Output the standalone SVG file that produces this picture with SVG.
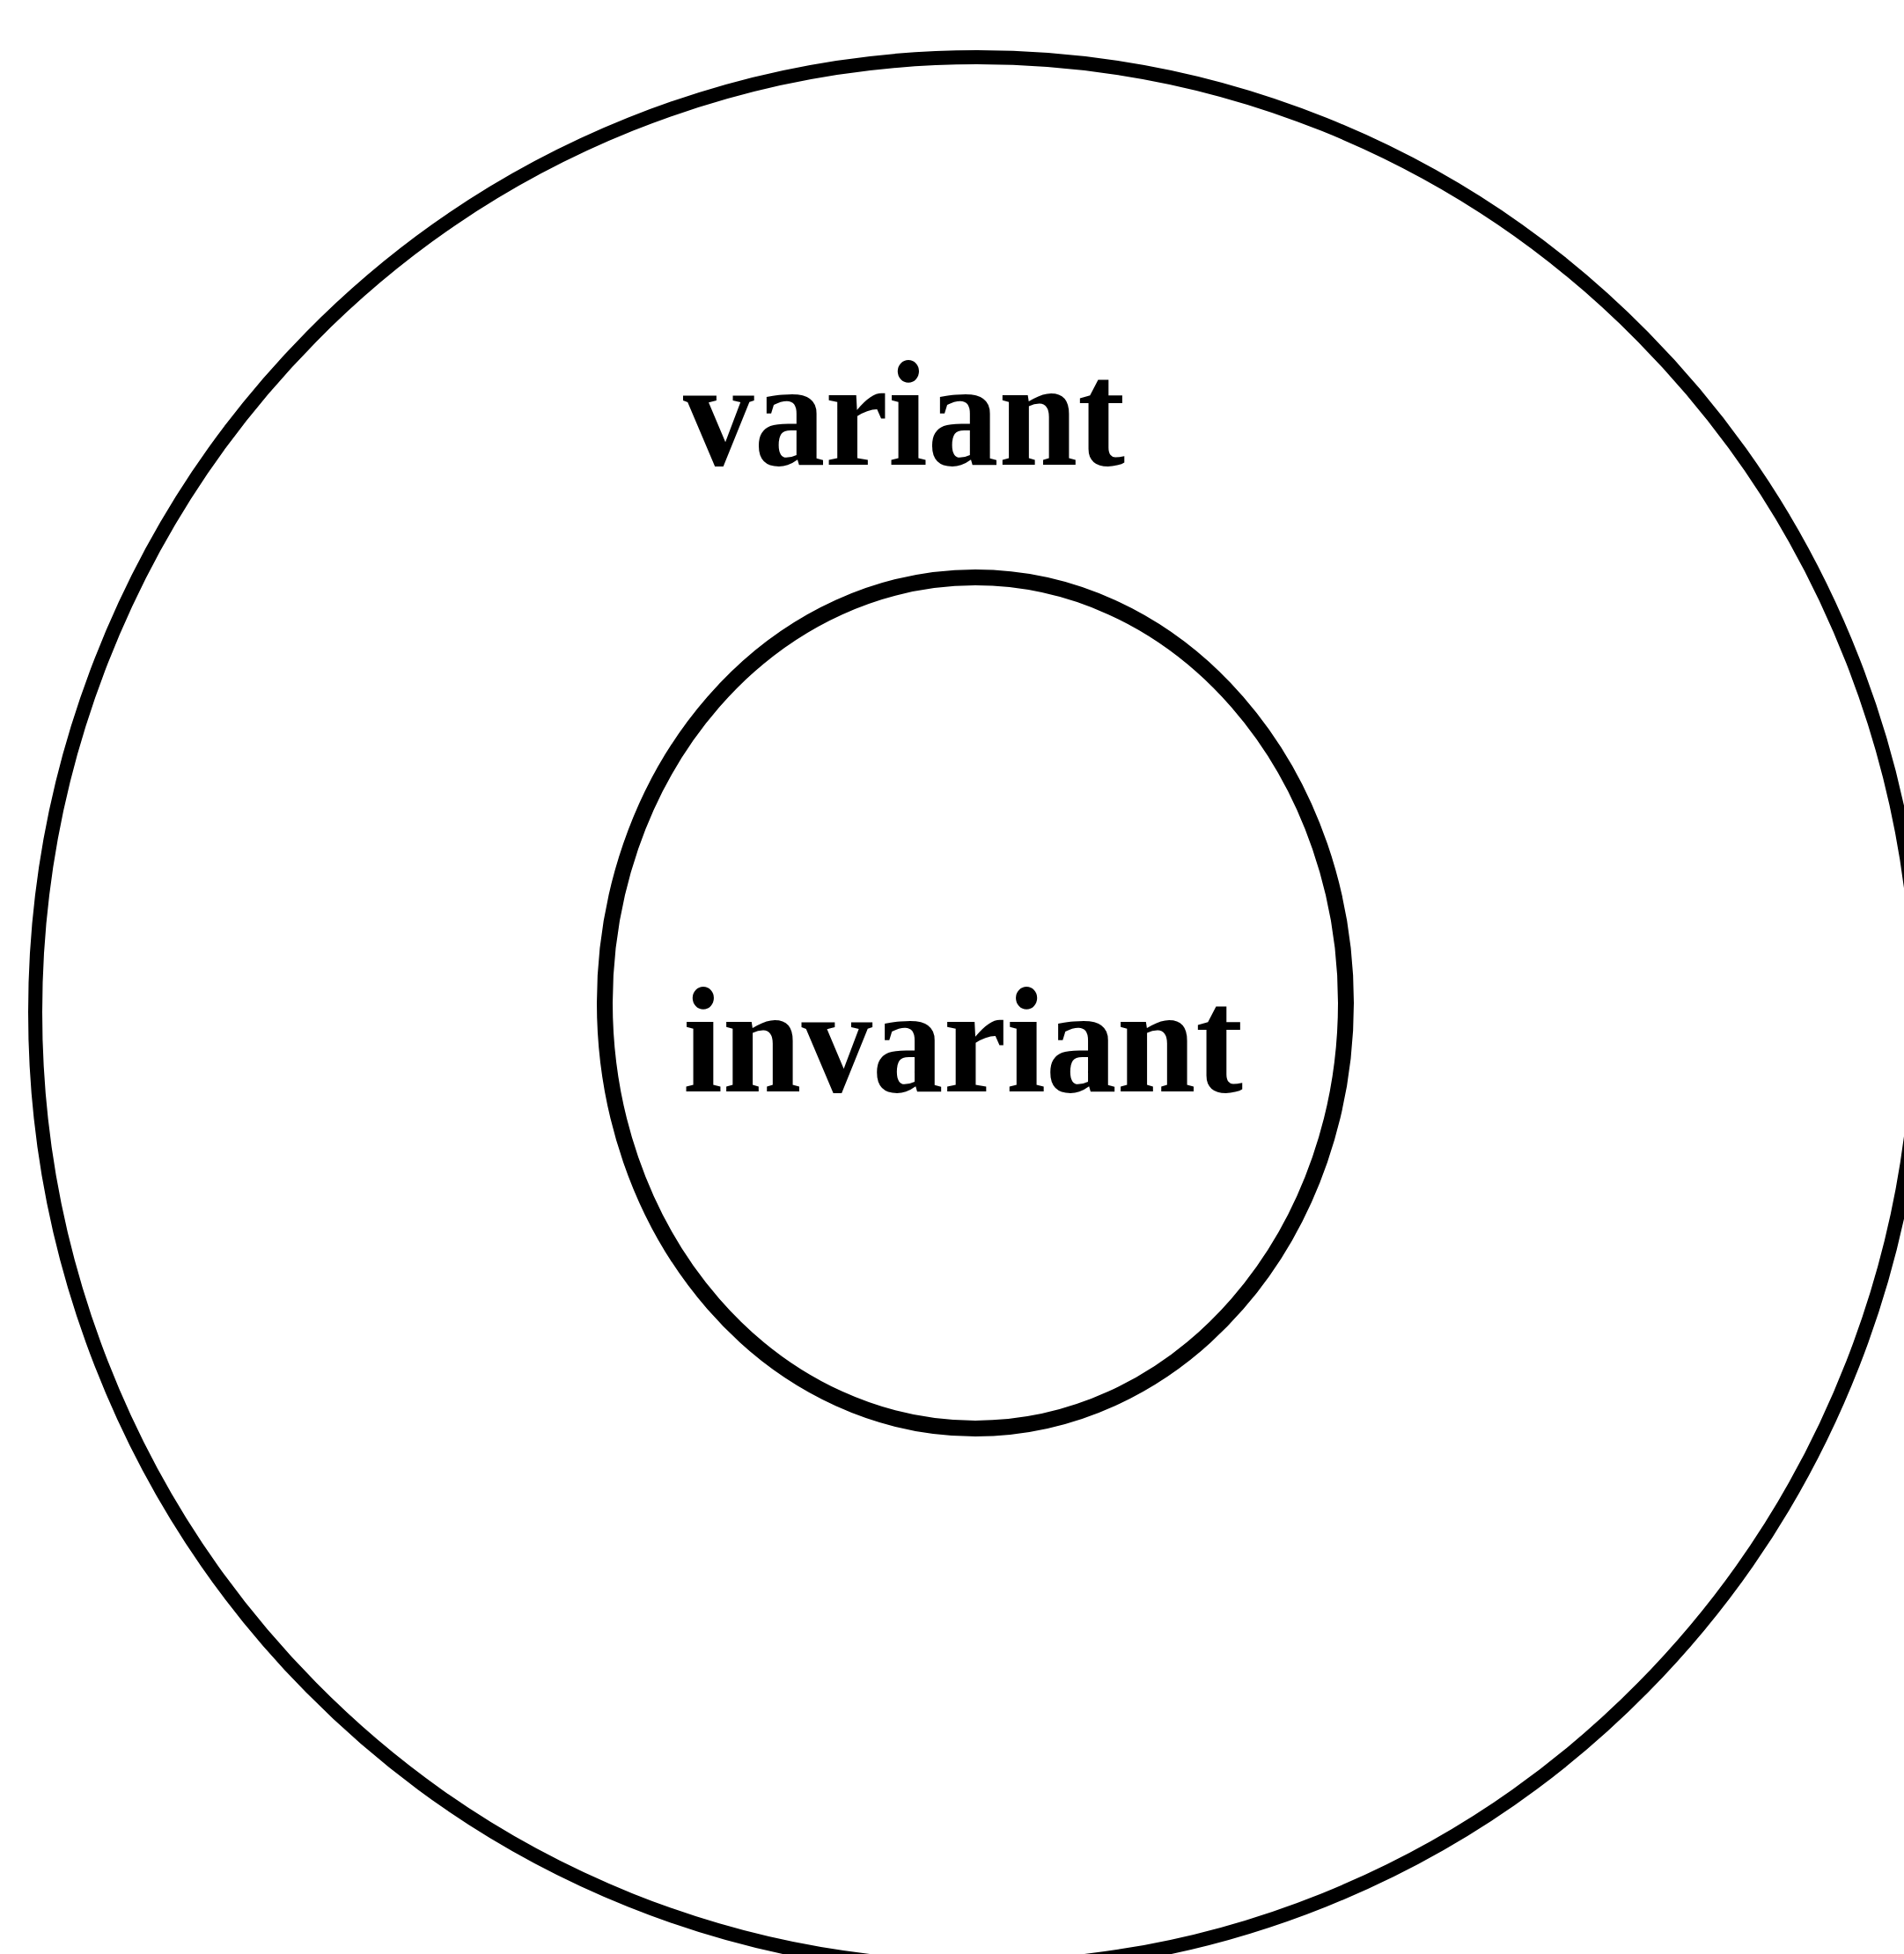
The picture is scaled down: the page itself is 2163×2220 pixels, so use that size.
<svg xmlns="http://www.w3.org/2000/svg" width="2163" height="2220" viewBox="0 0 2163 2220">
  <style>
    .ring { fill: none; stroke: #000000; }
    .label { font-family: "Liberation Serif", "DejaVu Serif", serif; font-weight: bold; font-size: 172px; fill: #000000; }
  </style>
  <rect x="0" y="0" width="2163" height="2220" fill="#ffffff"/>
  <g id="outer-variant">
    <ellipse class="ring" cx="1110" cy="1150" rx="1070" ry="1085" stroke-width="16"/>
    <text class="label" x="776" y="528" textLength="502" lengthAdjust="spacingAndGlyphs">variant</text>
  </g>
  <g id="inner-invariant">
    <ellipse class="ring" cx="1108" cy="1139.5" rx="421" ry="483.5" stroke-width="18"/>
    <text class="label" x="776" y="1240" textLength="636" lengthAdjust="spacingAndGlyphs">invariant</text>
  </g>
</svg>
